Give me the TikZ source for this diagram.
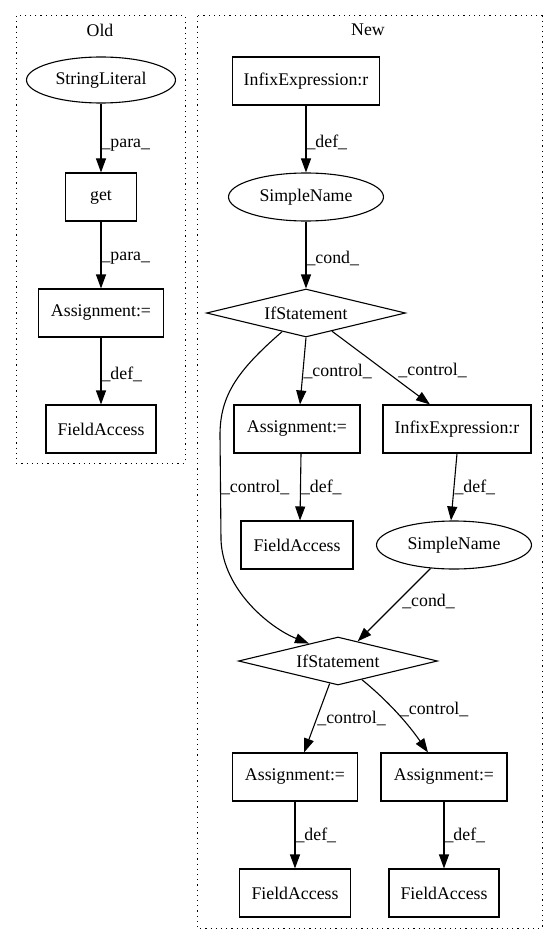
\documentclass[tikz,border=0pt]{standalone}
\usepackage{fontspec}
\setmainfont{Liberation Serif}
\usetikzlibrary{shapes.geometric,arrows.meta}

\tikzset{
  box/.style={draw, line width=1.1pt, rectangle, inner sep=0pt, minimum height=48pt},
  oval/.style={draw, line width=1.1pt, ellipse, inner sep=0pt, minimum height=46pt},
  cond/.style={draw, line width=1.1pt, diamond, inner sep=0pt, shape aspect=4,
    minimum width=199pt, minimum height=48pt},
  flow/.style={line width=1.1pt, -{Triangle[length=14pt,width=10pt]}},
  lbl/.style={anchor=west, inner sep=0pt},
  cluster/.style={line width=1pt, dash pattern=on 1.2pt off 4pt}
}

\begin{document}
\begin{tikzpicture}[x=1pt, y=-1pt, font=\fontsize{17.8}{20}\selectfont]
        \useasboundingbox (0,0) rectangle (557,944);

        % clusters
        \draw [cluster] (16,16) rectangle (185,463);
        \draw [cluster] (197,16) rectangle (542,928);
        \node (oldtitle) at (100,30) {Old};
        \node (newtitle) at (368,30) {New};

        % old
        \node [oval, minimum width=149pt] (strlit) at (101,80) {StringLiteral};
        \node [box, minimum width=71pt] (get) at (101,197) {get};
        \node [box, minimum width=125pt] (oldasgn) at (101,313) {Assignment:=};
        \node [box, minimum width=110pt] (oldfield) at (101,429) {FieldAccess};

        \draw [flow] (strlit) -- (get) node [lbl, pos=0.6] {\_para\_};
        \draw [flow] (get) -- (oldasgn) node [lbl, pos=0.55] {\_para\_};
        \draw [flow] (oldasgn) -- (oldfield) node [lbl, pos=0.55] {\_def\_};

        % new
        \node [box, minimum width=147pt] (infixa) at (306,81) {InfixExpression:r};
        \node [oval, minimum width=155pt, minimum height=48pt] (namea) at (306,197) {SimpleName};
        \node [cond] (ifa) at (306,313) {IfStatement};
        \node [box, minimum width=126pt] (asgna) at (297,429) {Assignment:=};
        \node [box, minimum width=148pt] (infixb) at (457,429) {InfixExpression:r};
        \node [box, minimum width=112pt] (fielda) at (297,545) {FieldAccess};
        \node [oval, minimum width=155pt, minimum height=48pt] (nameb) at (454,545) {SimpleName};
        \node [cond] (ifb) at (338,661) {IfStatement};
        \node [box, minimum width=125pt] (asgnb) at (295,777) {Assignment:=};
        \node [box, minimum width=126pt] (asgnc) at (444,777) {Assignment:=};
        \node [box, minimum width=111pt] (fieldb) at (295,893) {FieldAccess};
        \node [box, minimum width=110pt] (fieldc) at (444,893) {FieldAccess};

        \draw [flow] (infixa) -- (namea) node [lbl, pos=0.55] {\_def\_};
        \draw [flow] (namea) -- (ifa) node [lbl, pos=0.55] {\_cond\_};
        \draw [flow] (ifa.south) -- ([xshift=3pt]asgna.north) node [lbl, pos=0.5] {\_control\_};
        \draw [flow] (ifa.-35) -- ([xshift=-27pt]infixb.north) node [lbl, pos=0.53, xshift=14pt] {\_control\_};
        \draw [flow] (ifa.218) .. controls (238,370) and (220,395) .. (220,435)
            -- (221,540) node [lbl, midway] {\_control\_}
            .. controls (223,590) and (270,628) .. (ifb.149);
        \draw [flow] ([xshift=4pt]asgna.south) -- ([xshift=3pt]fielda.north) node [lbl, pos=0.5] {\_def\_};
        \draw [flow] (infixb.south) -- ([xshift=-3pt]nameb.north) node [lbl, pos=0.5] {\_def\_};
        \draw [flow] (nameb) -- (ifb) node [lbl, pos=0.45, xshift=4pt] {\_cond\_};
        \draw [flow] (ifb) -- (asgnb) node [lbl, pos=0.5] {\_control\_};
        \draw [flow] (ifb.-38) .. controls (382,696) and (404,718) .. ([xshift=-16pt]asgnc.north)
            node [lbl, pos=0.5, xshift=6pt] {\_control\_};
        \draw [flow] (asgnb) -- (fieldb) node [lbl, pos=0.5] {\_def\_};
        \draw [flow] (asgnc) -- (fieldc) node [lbl, pos=0.5] {\_def\_};
\end{tikzpicture}
\end{document}
